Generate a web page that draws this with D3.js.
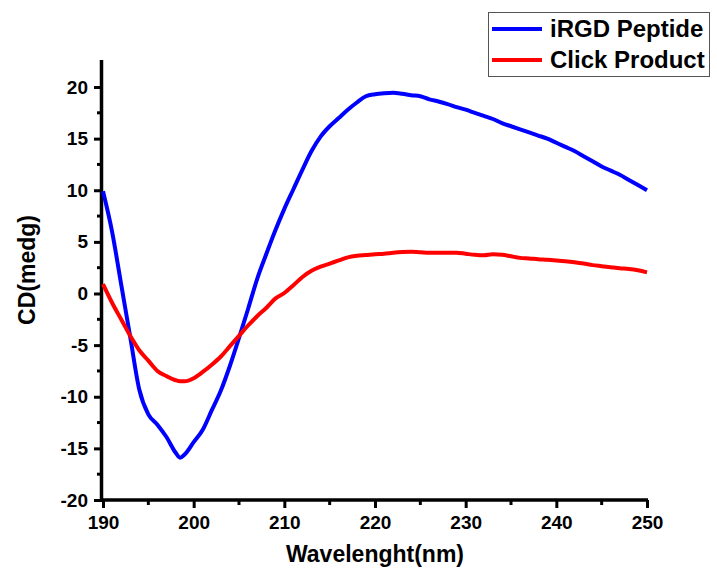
<!DOCTYPE html>
<html><head><meta charset="utf-8">
<script src="https://cdn.jsdelivr.net/npm/d3@7"></script>
<style>body{margin:0;background:#fff}svg{display:block}text{font-family:Arial,"Liberation Sans",sans-serif;font-weight:bold}</style>
</head><body><svg id="c" width="717" height="577"></svg>
<script>
const wavelength = [190,191,192,193,194,195,196,197,198,198.5,199,200,201,202,203,204,205,206,207,208,209,210,211,212,213,214,215,216,217,218,219,220,221,222,223,224,225,226,227,228,229,230,231,232,233,234,235,236,237,238,239,240,241,242,243,244,245,246,247,248,249,250];
const iRGD = [9.9,6.0,0.9,-4.2,-9.3,-11.7,-12.7,-13.9,-15.4,-15.9,-15.6,-14.4,-13.2,-11.3,-9.4,-7.0,-4.3,-1.5,1.4,3.8,6.1,8.2,10.1,12.0,13.8,15.2,16.2,17.0,17.8,18.5,19.1,19.3,19.4,19.45,19.35,19.2,19.1,18.8,18.6,18.35,18.05,17.8,17.5,17.2,16.9,16.5,16.2,15.9,15.6,15.3,15.0,14.6,14.2,13.8,13.3,12.8,12.3,11.9,11.5,11.0,10.5,10.0];
const click = [0.9,-0.9,-2.5,-4.1,-5.5,-6.5,-7.5,-8.0,-8.4,-8.5,-8.5,-8.2,-7.6,-6.9,-6.1,-5.1,-4.1,-3.1,-2.2,-1.4,-0.5,0.05,0.8,1.6,2.2,2.6,2.9,3.2,3.5,3.65,3.72,3.8,3.85,3.95,4.02,4.05,4.0,3.95,3.95,3.95,3.95,3.85,3.75,3.7,3.8,3.75,3.6,3.45,3.4,3.32,3.27,3.2,3.12,3.02,2.9,2.75,2.65,2.55,2.45,2.38,2.25,2.05];
const xTicks = [190,200,210,220,230,240,250];
const yTicks = [-20,-15,-10,-5,0,5,10,15,20];
const seriesNames = ["iRGD Peptide","Click Product"];
const seriesColors = ["#0000ff","#ff0000"];

const svg = d3.select("#c");
const x = d3.scaleLinear().domain([190,250]).range([103,647]);
const y = d3.scaleLinear().domain([-20,20]).range([500,87]);
const yTop = 60;

// minor ticks
const xMinor = d3.range(195,250,10);
const yMinor = d3.range(-17.5,22.5,5);
const g = svg.append("g");
g.selectAll(".xm").data(xMinor).enter().append("line")
  .attr("x1",d=>x(d)).attr("x2",d=>x(d)).attr("y1",500).attr("y2",505)
  .attr("stroke","#000").attr("stroke-width",3);
g.selectAll(".ym").data(yMinor).enter().append("line")
  .attr("x1",97).attr("x2",102).attr("y1",d=>y(d)).attr("y2",d=>y(d))
  .attr("stroke","#000").attr("stroke-width",3);

const fmt = d => String(d);
const xAxis = svg.append("g").attr("transform","translate(0,500)")
  .call(d3.axisBottom(x).tickValues(xTicks).tickSize(8).tickPadding(8).tickFormat(fmt));
xAxis.select(".domain").remove();
xAxis.selectAll(".tick line").attr("stroke","#000").attr("stroke-width",3);
xAxis.selectAll("text").attr("font-size",19).attr("fill","#000");

const yAxis = svg.append("g").attr("transform","translate(102,0)")
  .call(d3.axisLeft(y).tickValues(yTicks).tickSize(8).tickPadding(6).tickFormat(fmt));
yAxis.select(".domain").remove();
yAxis.selectAll(".tick line").attr("stroke","#000").attr("stroke-width",3);
yAxis.selectAll("text").attr("font-size",19).attr("fill","#000");

// axis lines
svg.append("line").attr("x1",101.5).attr("x2",101.5).attr("y1",yTop).attr("y2",501.5).attr("stroke","#000").attr("stroke-width",3.5);
svg.append("line").attr("x1",100).attr("x2",x(250)+1).attr("y1",500).attr("y2",500).attr("stroke","#000").attr("stroke-width",3.5);

const line = d3.line().x((d,i)=>x(wavelength[i])).y(d=>y(d)).curve(d3.curveMonotoneX);
[iRGD, click].forEach((s,k)=>{
  svg.append("path").datum(s).attr("d",line).attr("fill","none")
    .attr("stroke",seriesColors[k]).attr("stroke-width",4).attr("stroke-linejoin","round");
});

// axis titles
svg.append("text").attr("x",375).attr("y",562).attr("text-anchor","middle").attr("font-size",23).text("Wavelenght(nm)");
svg.append("text").attr("transform","translate(35,270) rotate(-90)").attr("text-anchor","middle").attr("font-size",23).text("CD(medg)");

// legend
const lg = svg.append("g");
lg.append("rect").attr("x",488.5).attr("y",12.5).attr("width",221).attr("height",64).attr("fill","#fff").attr("stroke","#555").attr("stroke-width",1);
seriesNames.forEach((n,k)=>{
  const yy = 29 + k*31;
  lg.append("line").attr("x1",492).attr("x2",542).attr("y1",yy).attr("y2",yy).attr("stroke",seriesColors[k]).attr("stroke-width",4);
  lg.append("text").attr("x",550).attr("y",yy+8).attr("font-size",24).text(n);
});
</script></body></html>
